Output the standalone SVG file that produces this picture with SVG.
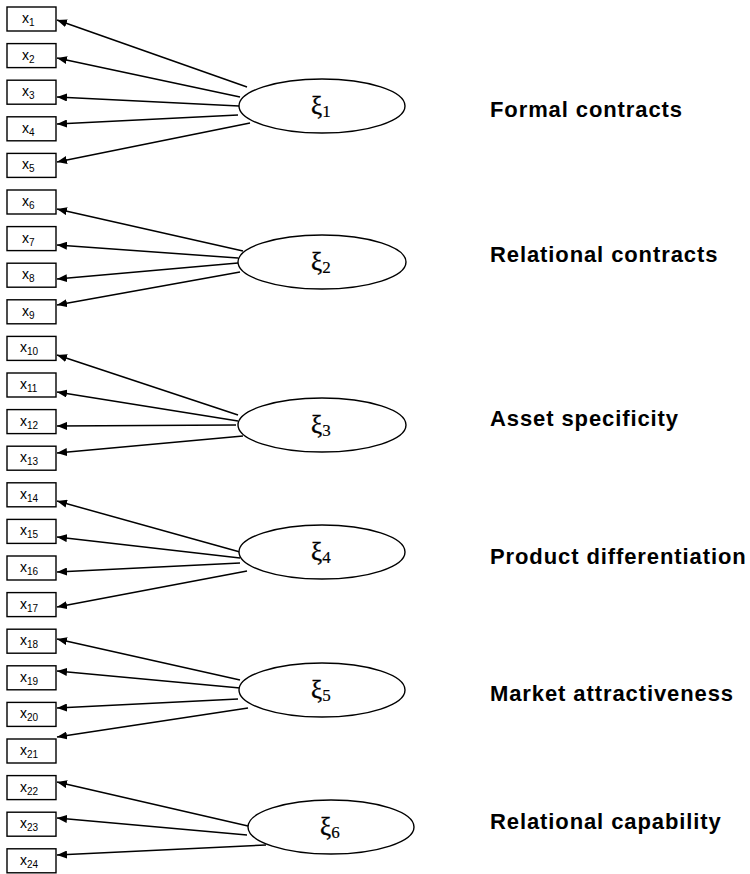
<svg xmlns="http://www.w3.org/2000/svg" width="750" height="874" viewBox="0 0 750 874">
  <style>
    .box { fill: #fff; stroke: #000; stroke-width: 1.4; }
    .lat { fill: #fff; stroke: #000; stroke-width: 1.4; }
    .edge { stroke: #000; stroke-width: 1.5; fill: none; marker-end: url(#ah); }
    .ind { font-family: "Liberation Sans", Arial, sans-serif; font-size: 14px; fill: #000; }
    .ind .sub { font-size: 10px; }
    .xi { font-family: "Liberation Serif", "Times New Roman", serif; font-size: 25px; fill: #000; stroke: #000; stroke-width: 0.4; }
    .xi .sub { font-size: 17px; stroke-width: 0.2; }
    .name { font-family: "Liberation Sans", Arial, sans-serif; font-size: 22px; font-weight: bold; letter-spacing: 0.9px; fill: #000; }
  </style>
  <defs>
    <marker id="ah" markerWidth="11" markerHeight="8" refX="10" refY="4" orient="auto" markerUnits="userSpaceOnUse">
      <path d="M0,0 L10,4 L0,8 z" fill="#000"/>
    </marker>
  </defs>
  <rect width="750" height="874" fill="#fff"/>

  <!-- loadings: latent factor to indicator -->
  <g id="connectors">
    <line class="edge" x1="247" y1="87" x2="57" y2="20"/>
    <line class="edge" x1="240" y1="97" x2="57" y2="58"/>
    <line class="edge" x1="239" y1="106" x2="57" y2="97"/>
    <line class="edge" x1="238" y1="115" x2="57" y2="124"/>
    <line class="edge" x1="250" y1="123" x2="57" y2="162"/>

    <line class="edge" x1="243" y1="251" x2="57" y2="209"/>
    <line class="edge" x1="238" y1="258" x2="57" y2="245"/>
    <line class="edge" x1="238" y1="263" x2="57" y2="279"/>
    <line class="edge" x1="240" y1="272" x2="57" y2="305"/>

    <line class="edge" x1="238" y1="415" x2="57" y2="355"/>
    <line class="edge" x1="238" y1="421" x2="57" y2="392"/>
    <line class="edge" x1="236" y1="425" x2="57" y2="426"/>
    <line class="edge" x1="243" y1="436" x2="57" y2="453"/>

    <line class="edge" x1="240" y1="552" x2="57" y2="501"/>
    <line class="edge" x1="240" y1="558" x2="57" y2="537"/>
    <line class="edge" x1="240" y1="563" x2="57" y2="572"/>
    <line class="edge" x1="247" y1="571" x2="57" y2="607"/>

    <line class="edge" x1="240" y1="680" x2="57" y2="639"/>
    <line class="edge" x1="240" y1="688" x2="57" y2="671"/>
    <line class="edge" x1="238" y1="699" x2="57" y2="708"/>
    <line class="edge" x1="248" y1="708" x2="57" y2="737"/>

    <line class="edge" x1="248" y1="826" x2="57" y2="782"/>
    <line class="edge" x1="247" y1="835" x2="57" y2="818"/>
    <line class="edge" x1="266" y1="845" x2="57" y2="855"/>
  </g>

  <!-- observed indicators -->
  <g id="x1"><rect class="box" x="7" y="7" width="49" height="24"/><text class="ind" x="22" y="23">x<tspan class="sub" dy="3">1</tspan></text></g>
  <g id="x2"><rect class="box" x="7" y="43.6" width="49" height="24"/><text class="ind" x="22" y="59.6">x<tspan class="sub" dy="3">2</tspan></text></g>
  <g id="x3"><rect class="box" x="7" y="80.2" width="49" height="24"/><text class="ind" x="22" y="96.2">x<tspan class="sub" dy="3">3</tspan></text></g>
  <g id="x4"><rect class="box" x="7" y="116.8" width="49" height="24"/><text class="ind" x="22" y="132.8">x<tspan class="sub" dy="3">4</tspan></text></g>
  <g id="x5"><rect class="box" x="7" y="153.4" width="49" height="24"/><text class="ind" x="22" y="169.4">x<tspan class="sub" dy="3">5</tspan></text></g>
  <g id="x6"><rect class="box" x="7" y="190" width="49" height="24"/><text class="ind" x="22" y="206">x<tspan class="sub" dy="3">6</tspan></text></g>
  <g id="x7"><rect class="box" x="7" y="226.6" width="49" height="24"/><text class="ind" x="22" y="242.6">x<tspan class="sub" dy="3">7</tspan></text></g>
  <g id="x8"><rect class="box" x="7" y="263.2" width="49" height="24"/><text class="ind" x="22" y="279.2">x<tspan class="sub" dy="3">8</tspan></text></g>
  <g id="x9"><rect class="box" x="7" y="299.8" width="49" height="24"/><text class="ind" x="22" y="315.8">x<tspan class="sub" dy="3">9</tspan></text></g>
  <g id="x10"><rect class="box" x="7" y="336.4" width="49" height="24"/><text class="ind" x="20" y="352.4">x<tspan class="sub" dy="3">10</tspan></text></g>
  <g id="x11"><rect class="box" x="7" y="373" width="49" height="24"/><text class="ind" x="20" y="389">x<tspan class="sub" dy="3">11</tspan></text></g>
  <g id="x12"><rect class="box" x="7" y="409.6" width="49" height="24"/><text class="ind" x="20" y="425.6">x<tspan class="sub" dy="3">12</tspan></text></g>
  <g id="x13"><rect class="box" x="7" y="446.2" width="49" height="24"/><text class="ind" x="20" y="462.2">x<tspan class="sub" dy="3">13</tspan></text></g>
  <g id="x14"><rect class="box" x="7" y="482.8" width="49" height="24"/><text class="ind" x="20" y="498.8">x<tspan class="sub" dy="3">14</tspan></text></g>
  <g id="x15"><rect class="box" x="7" y="519.4" width="49" height="24"/><text class="ind" x="20" y="535.4">x<tspan class="sub" dy="3">15</tspan></text></g>
  <g id="x16"><rect class="box" x="7" y="556" width="49" height="24"/><text class="ind" x="20" y="572">x<tspan class="sub" dy="3">16</tspan></text></g>
  <g id="x17"><rect class="box" x="7" y="592.6" width="49" height="24"/><text class="ind" x="20" y="608.6">x<tspan class="sub" dy="3">17</tspan></text></g>
  <g id="x18"><rect class="box" x="7" y="629.2" width="49" height="24"/><text class="ind" x="20" y="645.2">x<tspan class="sub" dy="3">18</tspan></text></g>
  <g id="x19"><rect class="box" x="7" y="665.8" width="49" height="24"/><text class="ind" x="20" y="681.8">x<tspan class="sub" dy="3">19</tspan></text></g>
  <g id="x20"><rect class="box" x="7" y="702.4" width="49" height="24"/><text class="ind" x="20" y="718.4">x<tspan class="sub" dy="3">20</tspan></text></g>
  <g id="x21"><rect class="box" x="7" y="739" width="49" height="24"/><text class="ind" x="20" y="755">x<tspan class="sub" dy="3">21</tspan></text></g>
  <g id="x22"><rect class="box" x="7" y="775.6" width="49" height="24"/><text class="ind" x="20" y="791.6">x<tspan class="sub" dy="3">22</tspan></text></g>
  <g id="x23"><rect class="box" x="7" y="812.2" width="49" height="24"/><text class="ind" x="20" y="828.2">x<tspan class="sub" dy="3">23</tspan></text></g>
  <g id="x24"><rect class="box" x="7" y="848.8" width="49" height="24"/><text class="ind" x="20" y="864.8">x<tspan class="sub" dy="3">24</tspan></text></g>

  <!-- latent constructs -->
  <g id="xi1"><ellipse class="lat" cx="322" cy="106" rx="83" ry="27"/><text class="xi" x="311" y="114">ξ<tspan class="sub" dy="3">1</tspan></text></g>
  <g id="xi2"><ellipse class="lat" cx="322" cy="262" rx="84" ry="27"/><text class="xi" x="311" y="270">ξ<tspan class="sub" dy="3">2</tspan></text></g>
  <g id="xi3"><ellipse class="lat" cx="322" cy="425" rx="84" ry="27"/><text class="xi" x="311" y="433">ξ<tspan class="sub" dy="3">3</tspan></text></g>
  <g id="xi4"><ellipse class="lat" cx="322" cy="552" rx="83" ry="27"/><text class="xi" x="311" y="560">ξ<tspan class="sub" dy="3">4</tspan></text></g>
  <g id="xi5"><ellipse class="lat" cx="322" cy="690" rx="83" ry="27"/><text class="xi" x="311" y="698">ξ<tspan class="sub" dy="3">5</tspan></text></g>
  <g id="xi6"><ellipse class="lat" cx="331" cy="827" rx="83" ry="27"/><text class="xi" x="320" y="835">ξ<tspan class="sub" dy="3">6</tspan></text></g>

  <!-- construct names -->
  <g id="labels">
    <text class="name" x="490" y="117">Formal contracts</text>
    <text class="name" x="490" y="262">Relational contracts</text>
    <text class="name" x="490" y="426">Asset specificity</text>
    <text class="name" x="490" y="564">Product differentiation</text>
    <text class="name" x="490" y="701">Market attractiveness</text>
    <text class="name" x="490" y="829">Relational capability</text>
  </g>
</svg>
